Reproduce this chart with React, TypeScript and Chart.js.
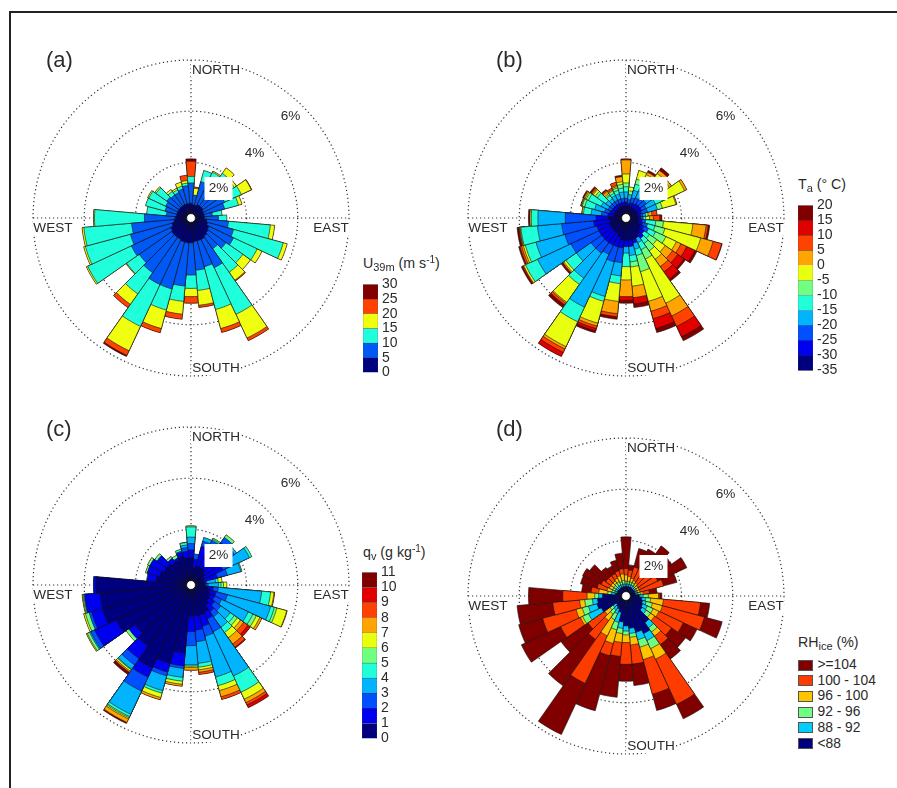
import React, { useEffect, useRef } from 'react';
import Chart from 'chart.js/auto';

Chart.defaults.font.family = '"Liberation Sans", Arial, sans-serif';

// === Wind direction bins (degrees, clockwise from north) ===
const DIRECTIONS = Array.from({ length: 36 }, (_, i) => `${i * 10}`);

// === Frequency (%) per direction, cumulative through the classes, inner class first ===
const uRows = [
  [.4, 1.2, 1.45, 1.45, 2.05, 2.14], [.35, .73, .73, 1.0, 1.05], [.35, 1.3, 1.75], [.4, 1.0, 1.8, 1.85],
  [.4, 1.0, 1.96, 2.22], [.4, 1.0, 1.9, 2.0], [.35, 1.28, 2.0, 2.43, 2.45], [.35, 1.19, 1.75, 1.89],
  [.35, .67, 1.05], [.35, .9, 1.23], [.45, 1.3, 2.94, 3.11], [.5, 1.55, 3.56, 3.72],
  [.6, 1.66, 2.68, 2.89], [.65, 1.5, 2.3, 2.67], [.7, 1.3, 2.42, 2.8, 2.84], [.75, 1.97, 3.98, 5.0, 5.12],
  [.75, 1.8, 3.53, 4.3, 4.46], [.75, 1.88, 2.67, 3.25, 3.34], [.8, 2.06, 2.58, 2.9, 3.16], [.8, 2.5, 3.1, 3.6, 3.8],
  [.8, 2.7, 3.55, 4.3, 4.47], [.75, 2.7, 4.5, 5.55, 5.75, 5.8], [.75, 2.44, 3.45, 3.95, 4.11], [.75, 2.3, 2.9, 2.93],
  [.7, 2.4, 4.28, 4.34], [.6, 2.28, 4.1, 4.17], [.5, 2.16, 4.03, 4.1], [.45, 1.65, 3.6, 3.64],
  [.4, .8, 1.57], [.4, .88, 1.67], [.4, .92, 1.65, 1.7], [.4, .98, 1.5, 1.56],
  [.4, .93, 1.1, 1.19], [.4, .93, 1.05, 1.12], [.4, 1.0, 1.12, 1.28], [.4, 1.1, 1.2, 1.3, 1.51],
];

const taRows = [
  [.3, .45, .6, .85, 1.05, 1.2, 1.55, 2.1, 2.1, 2.1, 2.14], [.3, .4, .55, .75, .75, .9, 1.05], [.3, .45, .65, .95, 1.2, 1.4, 1.75], [.3, .45, .7, 1.0, 1.3, 1.5, 1.7, 1.8, 1.8, 1.8, 1.88],
  [.3, .5, .75, 1.05, 1.35, 1.6, 1.95, 2.1, 2.1, 2.1, 2.22], [.3, .5, .8, 1.1, 1.3, 1.4, 1.9, 2.0], [.3, .5, .7, 1.1, 1.4, 1.6, 2.35, 2.45], [.3, .45, .7, 1.1, 1.1, 1.3, 1.85, 1.89],
  [.3, .4, .5, .6, .6, .7, .7, .85, 1.05], [.3, .4, .5, .5, .6, .6, .75, .9, 1.15, 1.2, 1.23], [.3, .45, .6, .6, 1.0, 1.3, 2.45, 2.97, 3.05, 3.08, 3.11], [.35, .5, .7, .7, 1.0, 1.4, 2.85, 3.35, 3.7, 3.7, 3.72],
  [.45, .6, .8, .8, 1.1, 1.55, 2.0, 2.2, 2.45, 2.8, 2.89], [.5, .7, .7, .7, .95, 1.3, 1.7, 2.05, 2.3, 2.6, 2.67], [.6, .8, .8, .8, 1.05, 1.4, 1.8, 2.15, 2.4, 2.75, 2.84], [.7, .7, .7, .9, 1.2, 1.6, 3.5, 4.05, 4.5, 4.95, 5.12],
  [.7, .85, .85, 1.1, 1.35, 2.0, 3.2, 3.6, 3.9, 4.3, 4.46], [.7, .95, .95, 1.3, 1.55, 1.75, 2.5, 2.95, 2.95, 3.2, 3.34], [.7, .95, .95, 1.2, 1.73, 1.73, 2.25, 2.9, 2.9, 3.05, 3.16], [.7, 1.0, 1.58, 2.1, 2.4, 2.4, 3.1, 3.58, 3.7, 3.7, 3.8],
  [.6, 1.0, 1.6, 3.0, 3.2, 3.2, 4.08, 4.2, 4.3, 4.4, 4.47], [.5, 1.0, 1.4, 3.67, 4.3, 4.3, 5.37, 5.47, 5.62, 5.8], [.5, 1.0, 1.5, 2.7, 3.0, 3.0, 3.85, 3.9, 3.98, 3.98, 4.11], [.5, 1.0, 1.5, 2.2, 2.7, 2.7, 2.8, 2.85, 2.85, 2.85, 2.93],
  [.5, 1.0, 2.2, 3.64, 4.16, 4.16, 4.24, 4.24, 4.24, 4.3, 4.34], [.5, 1.0, 2.3, 3.47, 3.9, 3.9, 3.98, 4.05, 4.12, 4.12, 4.17], [.45, 1.1, 2.35, 3.3, 3.95, 3.95, 3.98, 4.0, 4.03, 4.06, 4.1], [.5, 1.0, 2.2, 3.27, 3.53, 3.53, 3.58, 3.58, 3.58, 3.58, 3.64],
  [.3, .55, .8, 1.2, 1.5, 1.5, 1.55, 1.57], [.3, .5, .7, 1.1, 1.5, 1.6, 1.62, 1.65, 1.65, 1.65, 1.67], [.3, .45, .6, .9, 1.45, 1.55, 1.6, 1.65, 1.65, 1.65, 1.7], [.3, .45, .6, .8, 1.2, 1.3, 1.4, 1.45, 1.5, 1.5, 1.56],
  [.3, .45, .6, .75, .9, .95, 1.0, 1.1, 1.15, 1.15, 1.19], [.3, .45, .6, .8, .9, 1.0, 1.0, 1.05, 1.12], [.3, .45, .6, .8, .95, 1.05, 1.1, 1.15, 1.28], [.3, .45, .6, .85, 1.0, 1.15, 1.25, 1.45, 1.45, 1.45, 1.51],
];

const qvRows = [
  [.9, 1.2, 1.45, 1.7, 2.1, 2.14], [.5, .85, 1.05], [.6, 1.4, 1.6, 1.75], [.6, 1.6, 1.75, 1.75, 1.8, 1.85],
  [.6, 1.85, 2.1, 2.1, 2.1, 2.22], [.5, 1.6, 1.9, 2.0], [.4, 1.2, 1.6, 2.35, 2.45], [.35, .9, 1.3, 1.85, 1.89],
  [.35, .4, .45, .8, .9, .9, 1.05], [.35, .4, .5, .9, 1.0, 1.1, 1.23], [.5, .7, .9, 2.6, 2.95, 2.95, 3.08, 3.11], [.6, .85, 1.3, 3.05, 3.2, 3.3, 3.7, 3.72],
  [.65, .85, 1.15, 2.3, 2.5, 2.65, 2.8, 2.89], [.7, .95, 1.25, 1.7, 1.9, 2.05, 2.2, 2.35, 2.55, 2.67], [.8, 1.1, 1.35, 1.85, 2.1, 2.1, 2.35, 2.65, 2.8, 2.84], [1.0, 1.3, 1.85, 3.75, 4.45, 4.45, 4.75, 4.9, 5.0, 5.12],
  [1.05, 1.5, 1.9, 3.55, 3.9, 3.9, 4.1, 4.35, 4.46], [1.05, 1.6, 2.05, 2.9, 3.05, 3.05, 3.15, 3.25, 3.34], [1.05, 1.65, 2.2, 2.95, 3.0, 3.0, 3.05, 3.16], [2.5, 3.0, 3.1, 3.45, 3.6, 3.6, 3.72, 3.8],
  [3.0, 3.35, 3.5, 4.1, 4.2, 4.2, 4.38, 4.47], [3.4, 3.8, 4.4, 5.4, 5.5, 5.55, 5.6, 5.75, 5.75, 5.75, 5.8], [2.75, 3.35, 3.65, 3.85, 3.88, 3.88, 3.95, 4.0, 4.0, 4.0, 4.11], [2.5, 2.8, 2.8, 2.8, 2.8, 2.93],
  [3.05, 3.98, 4.15, 4.2, 4.2, 4.3, 4.34], [3.4, 3.85, 3.95, 3.95, 3.95, 4.1, 4.17], [3.4, 4.0, 4.0, 4.03, 4.03, 4.07, 4.1], [3.55, 3.64],
  [1.2, 1.55, 1.55, 1.55, 1.55, 1.57], [1.1, 1.6, 1.6, 1.6, 1.6, 1.67], [1.0, 1.6, 1.6, 1.6, 1.6, 1.7], [1.0, 1.45, 1.45, 1.45, 1.45, 1.56],
  [.9, 1.1, 1.1, 1.1, 1.1, 1.19], [.9, 1.0, 1.0, 1.0, 1.0, 1.12], [1.0, 1.15, 1.2, 1.2, 1.28], [.9, 1.15, 1.3, 1.4, 1.5, 1.51],
];

const rhRows = [
  [.2, .3, .4, .65, .9, 2.14], [.2, .3, .4, .6, .85, 1.05], [.2, .3, .4, .55, 1.0, 1.75], [.2, .3, .4, .5, 1.1, 1.85],
  [.2, .3, .35, .45, 1.0, 2.22], [.2, .25, .3, .4, 1.1, 2.0], [.2, .25, .3, .4, 1.2, 2.45], [.2, .25, .3, .4, 1.35, 1.89],
  [.2, .3, .4, .5, .75, 1.05], [.35, .5, .7, 1.1, 1.15, 1.23], [.45, .6, .8, 1.3, 2.75, 3.11], [.5, .65, .9, 1.3, 3.0, 3.72],
  [.55, .75, 1.0, 1.25, 2.3, 2.89], [.6, .8, 1.0, 1.2, 2.0, 2.67], [1.1, 1.35, 1.55, 1.75, 2.15, 2.84], [1.45, 1.75, 2.1, 2.55, 4.5, 5.12],
  [1.3, 1.6, 1.9, 2.4, 3.8, 4.46], [1.1, 1.3, 1.45, 1.75, 2.5, 3.34], [1.0, 1.2, 1.35, 1.65, 2.5, 3.16], [.85, 1.1, 1.3, 1.65, 2.2, 3.8],
  [.5, .9, 1.2, 1.75, 2.25, 4.47], [.4, .6, .85, 1.55, 3.6, 5.8], [.35, .5, .7, 1.0, 1.9, 4.11], [.3, .45, .6, .85, 1.65, 2.93],
  [.9, 1.45, 1.7, 1.8, 2.65, 4.34], [1.0, 1.35, 1.6, 1.85, 3.2, 4.17], [.95, 1.15, 1.45, 1.65, 2.7, 4.1], [.75, .9, 1.05, 1.35, 2.3, 3.64],
  [.25, .4, .55, .9, 1.2, 1.57], [.2, .3, .4, .6, 1.0, 1.67], [.2, .3, .4, .55, .9, 1.7], [.2, .3, .4, .55, .8, 1.56],
  [.2, .3, .45, .55, .8, 1.19], [.2, .3, .45, .6, .8, 1.12], [.2, .3, .4, .65, .85, 1.28], [.2, .3, .45, .7, .9, 1.51],
];

// === Colour classes, inner class first ===
const uColors = ['#00007f', '#0058f5', '#20ffdc', '#f0ff10', '#ff4200', '#800000'];
const jetColors = ['#00007f', '#0000f0', '#0050ff', '#00b4ff', '#20ffd8', '#70ff80', '#e8ff10', '#ffa400', '#ff4200', '#e00000', '#800000'];
const rhColors = ['#00007f', '#00ccff', '#70ff80', '#ffc400', '#ff3c00', '#800000'];

// === Colour bar and legend labels ===
const uTicks = [0, 5, 10, 15, 20, 25, 30];
const taTicks = [-35, -30, -25, -20, -15, -10, -5, 0, 5, 10, 15, 20];
const qvTicks = [0, 1, 2, 3, 4, 5, 6, 7, 8, 9, 10, 11];
const rhLabels = ['>=104', '100 - 104', '96 - 100', '92 - 96', '88 - 92', '<88'];

const RINGS = [2, 4, 6];
const TEXT = '#2b2b2b';
const DOTS = '#333';
const SIZE = 340;
const PAD = 12;

const compassLabels = [
  { text: 'NORTH', dx: 25, dy: -148 },
  { text: 'SOUTH', dx: 25, dy: 150 },
  { text: 'WEST', dx: -138, dy: 10 },
  { text: 'EAST', dx: 140, dy: 10 },
];

const ringLabels = [
  { text: '6%', dx: 99.5, dy: -101.5, w: 24, h: 16 },
  { text: '4%', dx: 63.5, dy: -65, w: 24, h: 16 },
  { text: '2%', dx: 27.5, dy: -29.5, w: 28, h: 23 },
];

// Cross hairs under the wedges, hub and labels on top of them
const roseDecor = {
  id: 'roseDecor',
  beforeDatasetsDraw(chart: any) {
    const { ctx } = chart;
    const r = chart.scales.r;
    const R = r.drawingArea;
    ctx.save();
    ctx.strokeStyle = DOTS;
    ctx.lineWidth = 1.2;
    ctx.setLineDash([1.2, 2.8]);
    ctx.beginPath();
    ctx.moveTo(r.xCenter - R, r.yCenter);
    ctx.lineTo(r.xCenter + R, r.yCenter);
    ctx.moveTo(r.xCenter, r.yCenter - R);
    ctx.lineTo(r.xCenter, r.yCenter + R);
    ctx.stroke();
    ctx.restore();
  },
  afterDatasetsDraw(chart: any) {
    const { ctx } = chart;
    const r = chart.scales.r;
    ctx.save();
    ctx.beginPath();
    ctx.arc(r.xCenter, r.yCenter, r.getDistanceFromCenterForValue(0), 0, Math.PI * 2);
    ctx.fillStyle = '#fff';
    ctx.fill();
    ctx.strokeStyle = '#000';
    ctx.lineWidth = 0.6;
    ctx.stroke();

    ctx.font = '13.6px "Liberation Sans", Arial, sans-serif';
    ctx.textAlign = 'center';
    ctx.textBaseline = 'middle';
    compassLabels.forEach(l => {
      const w = ctx.measureText(l.text).width + 2;
      ctx.fillStyle = '#fff';
      ctx.fillRect(r.xCenter + l.dx - w / 2, r.yCenter + l.dy - 7, w, 14);
      ctx.fillStyle = TEXT;
      ctx.fillText(l.text, r.xCenter + l.dx, r.yCenter + l.dy);
    });
    ringLabels.forEach(l => {
      ctx.fillStyle = '#fff';
      ctx.fillRect(r.xCenter + l.dx - l.w / 2, r.yCenter + l.dy - l.h / 2, l.w, l.h);
      ctx.fillStyle = TEXT;
      ctx.fillText(l.text, r.xCenter + l.dx, r.yCenter + l.dy);
    });
    ctx.restore();
  },
};

// === One wind rose: each class is a polar dataset, drawn from outermost to innermost ===
const Rose = ({ rows, colors, cx, cy }: { rows: number[][]; colors: string[]; cx: number; cy: number }) => {
  const ref = useRef<HTMLCanvasElement>(null);

  useEffect(() => {
    if (!ref.current) return;
    const valueAt = (row: number[], k: number) => (k < 0 ? 0 : row[k] ?? row[row.length - 1]);
    const chart = new Chart(ref.current, {
      type: 'polarArea',
      data: {
        labels: DIRECTIONS,
        datasets: colors.map((color, k) => ({
          data: rows.map(row => valueAt(row, k)),
          backgroundColor: color,
          borderColor: '#111',
          borderWidth: (c: any) => (valueAt(rows[c.dataIndex], k) > valueAt(rows[c.dataIndex], k - 1) ? 0.6 : 0),
        })),
      },
      options: {
        responsive: false,
        animation: false,
        layout: { padding: PAD },
        plugins: { legend: { display: false }, tooltip: { enabled: false } },
        scales: {
          r: {
            min: -0.17,
            max: 6,
            startAngle: -5,
            ticks: { display: false },
            pointLabels: { display: false },
            angleLines: { display: false },
            grid: { circular: true, color: DOTS, lineWidth: 1.2 },
            border: { dash: [1.2, 2.8] },
            afterBuildTicks: (axis: any) => {
              axis.ticks = RINGS.map(value => ({ value }));
            },
          },
        },
      } as any,
      plugins: [roseDecor],
    });
    return () => chart.destroy();
  }, [rows, colors]);

  return (
    <canvas
      ref={ref}
      width={SIZE}
      height={SIZE}
      style={{ position: 'absolute', left: cx - SIZE / 2, top: cy - SIZE / 2, width: SIZE, height: SIZE }}
    />
  );
};

// === Colour bar: floating bars on a linear axis ===
const ColorBar = ({ ticks, colors, left, top, height }: { ticks: number[]; colors: string[]; left: number; top: number; height: number }) => {
  const ref = useRef<HTMLCanvasElement>(null);
  const pad = 9;

  useEffect(() => {
    if (!ref.current) return;
    const chart = new Chart(ref.current, {
      type: 'bar',
      data: {
        labels: [''],
        datasets: colors.map((color, k) => ({
          data: [[ticks[k], ticks[k + 1]]],
          backgroundColor: color,
          borderColor: '#333',
          borderWidth: 0.5,
          barPercentage: 1,
          categoryPercentage: 1,
        })),
      },
      options: {
        responsive: false,
        animation: false,
        layout: { padding: { top: pad, bottom: pad } },
        plugins: { legend: { display: false }, tooltip: { enabled: false } },
        scales: {
          x: { display: false, stacked: true },
          y: {
            position: 'right',
            min: ticks[0],
            max: ticks[ticks.length - 1],
            grid: { display: false, drawTicks: false },
            border: { display: false },
            ticks: { stepSize: ticks[1] - ticks[0], color: TEXT, font: { size: 14 }, padding: 4, autoSkip: false },
            afterFit: (axis: any) => {
              axis.width = 32;
            },
          },
        },
      } as any,
    });
    return () => chart.destroy();
  }, [ticks, colors, pad]);

  return (
    <canvas
      ref={ref}
      width={47}
      height={height + pad * 2}
      style={{ position: 'absolute', left, top: top - pad, width: 47, height: height + pad * 2 }}
    />
  );
};

const sans = '"Liberation Sans", Arial, sans-serif';

const Label = ({ left, top, size = 14.2, children }: { left: number; top: number; size?: number; children: React.ReactNode }) => (
  <div style={{ position: 'absolute', left, top, fontFamily: sans, fontSize: size, color: TEXT, lineHeight: 1, whiteSpace: 'nowrap' }}>
    {children}
  </div>
);

const subStyle: React.CSSProperties = { fontSize: 11, verticalAlign: 'baseline', position: 'relative', top: 3, lineHeight: 0 };
const supStyle: React.CSSProperties = { fontSize: 10, verticalAlign: 'baseline', position: 'relative', top: -5, lineHeight: 0 };

export default function App() {
  return (
    <div style={{ position: 'fixed', inset: 0, overflow: 'hidden', background: '#fff', filter: 'blur(0.35px)' }}>
      <div style={{ position: 'absolute', left: 9, top: 11, width: 1000, height: 1000, borderLeft: '2px solid #222', borderTop: '2px solid #222' }} />

      <Rose rows={uRows} colors={uColors} cx={191} cy={217.5} />
      <Rose rows={taRows} colors={jetColors} cx={626} cy={217.5} />
      <Rose rows={qvRows} colors={jetColors} cx={191} cy={585} />
      <Rose rows={rhRows} colors={rhColors} cx={626} cy={595.5} />

      <Label left={46} top={49} size={22}>(a)</Label>
      <Label left={496} top={49} size={22}>(b)</Label>
      <Label left={46} top={418} size={22}>(c)</Label>
      <Label left={496} top={418} size={22}>(d)</Label>

      <ColorBar ticks={uTicks} colors={uColors} left={363} top={281} height={95} />
      <ColorBar ticks={taTicks} colors={jetColors} left={798} top={202} height={172} />
      <ColorBar ticks={qvTicks} colors={jetColors} left={362} top={569} height={173} />

      <Label left={363} top={256}>
        U<span style={subStyle}>39m</span> (m s<span style={supStyle}>-1</span>)
      </Label>
      <Label left={798} top={177}>
        T<span style={subStyle}>a</span> (° C)
      </Label>
      <Label left={363} top={545}>
        q<span style={subStyle}>v</span> (g kg<span style={supStyle}>-1</span>)
      </Label>
      <Label left={798} top={635}>
        RH<span style={subStyle}>ice</span> (%)
      </Label>

      {rhLabels.map((label, i) => (
        <React.Fragment key={label}>
          <div
            style={{
              position: 'absolute',
              left: 798,
              top: 659.5 + i * 15.7,
              width: 15,
              height: 11,
              boxSizing: 'border-box',
              background: rhColors[rhColors.length - 1 - i],
              border: '0.5px solid #555',
            }}
          />
          <Label left={817.5} top={658 + i * 15.7} size={13.8}>{label}</Label>
        </React.Fragment>
      ))}
    </div>
  );
}
